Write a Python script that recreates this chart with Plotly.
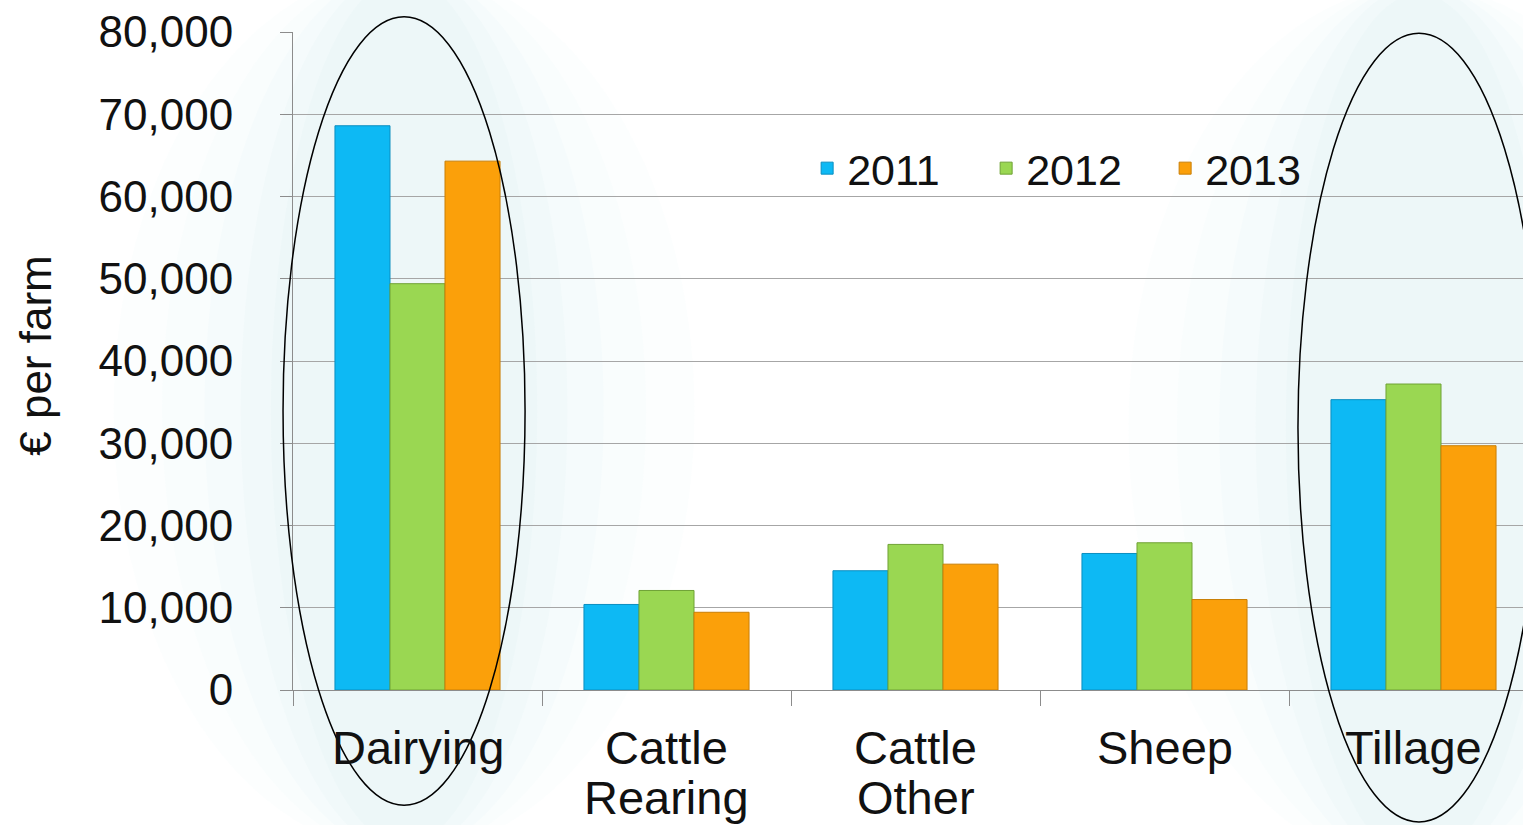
import plotly.graph_objects as go

categories = ["Dairying", "Cattle\nRearing", "Cattle\nOther", "Sheep", "Tillage"]
years = ["2011", "2012", "2013"]
v2011 = [68600, 10400, 14500, 16600, 35300]
v2012 = [49400, 12100, 17700, 17900, 37200]
v2013 = [64300, 9450, 15300, 11000, 29700]
series = [v2011, v2012, v2013]
colors = ["#0DB9F4", "#9AD752", "#FBA00A"]
edges = ["#0A8EC0", "#6FA235", "#C97E06"]
y_ticks = [0, 10000, 20000, 30000, 40000, 50000, 60000, 70000, 80000]
highlighted = ["Dairying", "Tillage"]

W, H = 1523, 825
ml, mr, mt, mb = 293, 0, 32, 135
plot_w = W - ml - mr
cat_px = 249.0
xs = list(range(len(categories)))


def to_paper(xd):
    return (xd + 0.5) * cat_px / plot_w


fig = go.Figure()
for name, vals, c, e in zip(years, series, colors, edges):
    fig.add_trace(go.Bar(
        x=xs, y=vals, name=name,
        marker=dict(color=c, line=dict(color=e, width=1)),
    ))

font = "Liberation Sans, Arial, sans-serif"

# category labels (two-line, tight spacing)
ann = []
for i, c in enumerate(categories):
    lines = c.split("\n")
    for j, ln in enumerate(lines):
        ann.append(dict(x=i, y=-0.088 - 0.075 * j, xref="x", yref="paper",
                        text=ln, showarrow=False, xanchor="center", yanchor="middle",
                        font=dict(family=font, size=47, color="#111111")))
ann.append(dict(x=-0.21, y=0.509, xref="paper", yref="paper", text="€ per farm",
                textangle=-90, showarrow=False, xanchor="center", yanchor="middle",
                font=dict(family=font, size=44, color="#111111")))

shapes = []
# soft glow + ellipse around highlighted groups
ell = {"Dairying": (-0.540, 0.432, -0.175, 1.023), "Tillage": (3.536, 4.508, -0.2006, 0.998)}
for h in highlighted:
    x0, x1, y0, y1 = ell[h]
    cx, cy = (x0 + x1) / 2, (y0 + y1) / 2
    for k, op in [(2.4, 0.06), (2.0, 0.07), (1.65, 0.08), (1.35, 0.09), (1.1, 0.1)]:
        hw, hh = (x1 - x0) / 2 * k, (y1 - y0) / 2 * min(k, 1.12)
        shapes.append(dict(type="circle", xref="paper", yref="paper",
                           x0=to_paper(cx - hw), x1=to_paper(cx + hw), y0=cy - hh, y1=cy + hh,
                           fillcolor="#d2eaee", opacity=op, line=dict(width=0), layer="below"))
for h in highlighted:
    x0, x1, y0, y1 = ell[h]
    shapes.append(dict(type="circle", xref="paper", yref="paper",
                       x0=to_paper(x0), x1=to_paper(x1), y0=y0, y1=y1,
                       line=dict(color="black", width=1.5), layer="above"))

fig.update_layout(
    width=W, height=H,
    margin=dict(l=ml, r=mr, t=mt, b=mb, pad=0),
    paper_bgcolor="white", plot_bgcolor="rgba(0,0,0,0)",
    barmode="group", bargap=0.337, bargroupgap=0,
    font=dict(family=font, color="#111111"),
    legend=dict(orientation="h", x=0.418, y=0.793, xanchor="left", yanchor="middle",
                font=dict(family=font, size=43, color="#111111"),
                bgcolor="rgba(0,0,0,0)", entrywidth=134, entrywidthmode="pixels"),
    annotations=ann, shapes=shapes,
    xaxis=dict(range=[-0.5, -0.5 + plot_w / cat_px], tickvals=[i - 0.5 for i in range(6)],
               showticklabels=False, ticks="outside", ticklen=15, tickcolor="#8c8c8c",
               showline=True, linecolor="#8c8c8c", linewidth=1, showgrid=False,
               zeroline=False, fixedrange=True),
    yaxis=dict(range=[0, 80000], tickvals=y_ticks,
               ticktext=[f"{v:,}" for v in y_ticks], ticks="outside", ticklen=12,
               tickcolor="#8c8c8c", ticklabelstandoff=38,
               tickfont=dict(family=font, size=44, color="#111111"),
               showline=True, linecolor="#8c8c8c", linewidth=1,
               showgrid=True, gridcolor="#a6a6a6", gridwidth=1, zeroline=False,
               fixedrange=True),
)

fig.write_html("out.html")
